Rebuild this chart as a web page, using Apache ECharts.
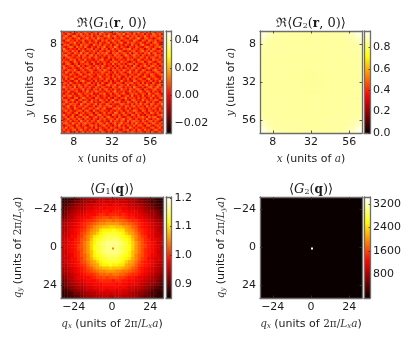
<!DOCTYPE html>
<html>
<head>
<meta charset="utf-8">
<style>html,body{margin:0;padding:0;background:#fff}#c{width:415px;height:346px;filter:blur(0.45px)}</style>
<script src="https://cdn.jsdelivr.net/npm/echarts@6/dist/echarts.min.js"></script>
</head>
<body>
<div id="c"></div>
<script>
const rTicks = [8, 32, 56];
const qTicks = [-24, 0, 24];
const cb1Ticks = [-0.02, 0, 0.02, 0.04];
const cb2Ticks = [0, 0.2, 0.4, 0.6, 0.8];
const cb3Ticks = [0.9, 1.0, 1.1, 1.2];
const cb4Ticks = [800, 1600, 2400, 3200];

// Re<G1(r,0)>, thousandths, coarse 48x48 estimate of the speckle
const g1r = [
[5,-2,8,3,-4,11,6,1,9,-3,4,12,2,7,-5,6,10,0,5,14,-1,7,3,-6,9,4,13,1,6,-3,8,11,2,-4,7,5,15,0,3,9,-2,6,12,4,-5,8,2,10],
[9,3,-5,12,6,1,-3,8,4,14,-1,5,9,-4,11,2,7,-6,13,3,8,-2,10,5,1,-4,6,11,3,16,-2,5,8,0,12,-3,6,4,10,-5,7,2,-1,13,6,3,11,-4],
[-3,7,13,1,-6,9,15,4,-2,6,10,0,7,3,12,-5,4,9,1,-3,11,6,16,0,7,12,-2,4,9,-5,6,13,-1,8,3,10,-6,7,1,14,4,-3,9,6,11,0,5,8],
[6,11,0,5,9,-4,3,7,13,-5,2,8,14,-1,6,10,-3,15,5,7,-4,2,9,4,-7,8,3,-2,12,7,1,-4,10,5,-2,6,17,3,-5,8,11,1,4,-6,2,9,13,-1],
[2,-6,8,14,3,7,-2,10,1,5,12,-4,3,9,-2,5,13,2,-6,10,4,12,-3,6,14,1,5,10,-5,3,9,7,2,-3,14,8,0,-5,11,6,-2,12,7,3,10,-3,5,7],
[12,4,1,-3,10,5,16,-1,6,-7,9,4,-2,11,6,1,8,-4,9,3,-1,7,13,-2,5,9,-3,7,15,1,-6,11,4,9,6,-1,4,12,2,-4,9,5,-7,8,14,4,0,-5],
[-1,9,6,11,-5,2,8,4,-3,13,3,7,10,0,-5,14,6,3,11,-5,8,5,1,10,-4,3,12,0,6,-2,10,4,-3,13,1,7,-5,9,15,3,0,-4,10,1,5,11,-2,8],
[7,2,-4,6,13,9,-6,12,5,8,-1,14,2,-6,8,3,-2,10,1,6,15,-3,4,8,2,16,6,-5,9,4,2,-7,8,3,-4,11,5,1,-3,7,13,6,2,-3,9,6,14,3],
[4,15,3,-2,7,0,5,-3,10,1,6,-5,9,5,12,-3,7,4,-7,13,2,9,-6,5,11,-1,7,3,-3,12,6,9,14,-2,5,8,-2,10,6,-6,4,9,-2,12,7,-5,1,10],
[-5,6,10,4,-1,12,3,8,-7,4,11,2,-2,7,1,10,5,-4,8,3,-3,6,11,-2,7,3,-6,13,8,0,-4,5,1,7,10,-5,3,7,13,2,8,-1,11,4,0,6,9,-2],
[10,1,-3,8,5,-6,11,6,2,15,-4,6,12,-4,4,6,-6,12,2,9,5,14,0,-5,9,5,12,-1,4,10,6,-3,11,-6,4,12,-1,5,-4,9,5,14,-5,7,10,-3,3,6],
[3,8,14,0,-4,9,2,-2,13,0,7,9,-6,8,14,0,9,-1,6,-4,10,1,7,4,-3,13,2,8,-5,3,15,7,-2,6,13,2,8,-6,10,3,-3,6,1,-2,12,5,8,-4],
[8,-5,5,11,7,3,-1,7,5,-4,10,1,4,11,-2,5,12,3,-5,7,0,-6,12,3,6,-2,9,5,11,-6,2,9,4,-1,8,5,-3,11,6,0,12,-4,7,9,3,-1,11,5],
[-2,6,1,-4,12,6,10,-5,9,3,-2,13,-3,5,2,-5,7,2,9,14,-3,6,4,-7,10,1,-4,7,2,6,-2,12,5,10,-5,1,14,4,-2,7,5,2,-6,13,6,9,0,7],
[11,3,9,6,-3,1,14,4,0,8,12,-1,7,-5,9,6,-4,10,-2,5,8,2,-4,9,5,12,6,-3,13,4,8,1,-6,3,9,-4,6,8,12,-5,3,11,8,1,-4,6,12,2],
[1,-4,7,12,4,-7,5,9,-6,5,2,6,10,2,-7,11,1,-5,4,-7,12,0,7,-2,14,0,3,9,-1,7,-5,6,11,7,-2,10,2,-1,5,9,-1,7,-2,5,10,-3,4,9],
[6,9,-2,3,8,11,-2,6,13,-3,7,-6,3,9,4,-1,10,6,1,12,5,-3,3,6,-3,8,-5,4,10,1,12,-3,4,-5,13,5,-7,8,3,14,5,-4,9,12,2,7,-5,5],
[-6,12,5,0,-3,7,4,-4,2,10,-2,4,12,5,-3,8,3,13,-4,8,-1,4,11,1,6,-4,10,-2,6,-6,3,8,0,10,6,-2,9,4,-6,1,7,12,3,-4,8,0,10,3],
[8,2,-5,10,6,2,13,1,-7,4,9,-3,2,11,7,2,-5,4,9,0,14,6,2,-7,9,5,1,7,-3,13,5,-1,9,2,-4,12,1,-3,11,6,-3,2,-6,7,14,5,-2,6],
[3,-1,14,4,-6,9,-2,8,11,-1,3,8,-5,1,12,-2,6,-1,3,11,5,-2,8,3,-3,11,-6,4,11,2,-4,7,14,-3,5,7,-5,9,4,-1,10,6,1,-3,5,11,6,-4],
[10,6,1,-3,12,5,3,-5,6,13,-5,2,6,13,3,5,-3,9,1,7,-3,12,4,-5,6,2,9,-2,5,8,6,-6,3,8,1,-2,13,5,-5,8,4,-1,12,7,-2,3,9,13],
[-4,7,9,5,2,-3,10,6,0,-4,7,11,-2,4,10,-3,2,5,14,-2,4,3,9,1,10,-4,5,12,0,-5,9,3,11,-2,6,10,3,-6,7,13,2,-6,5,9,4,-5,1,7],
[5,-2,11,-6,8,14,0,-3,9,5,1,-6,4,9,-3,7,6,-2,6,9,-4,11,7,-3,3,13,-2,6,-6,8,1,12,-5,4,9,-4,6,11,1,-4,8,15,-3,2,10,6,-1,11],
[12,3,-3,6,1,-5,7,12,-2,8,14,3,-1,2,7,-4,11,0,4,-3,6,10,-2,8,-5,6,1,-3,14,4,-2,6,2,-5,13,7,-1,3,8,5,-2,4,9,-5,7,0,13,2],
[2,9,6,-1,13,4,-4,5,2,-7,6,-2,9,13,-5,6,1,8,-5,12,2,-6,5,11,0,-3,9,7,3,-7,10,5,8,11,-1,2,9,-5,12,-3,7,1,-6,11,3,-3,6,8],
[-3,5,0,10,-7,6,9,1,11,3,-4,10,5,-3,8,3,-6,13,6,1,-4,7,14,2,6,12,-4,2,9,5,-1,14,-4,3,6,-6,5,10,1,6,14,-2,8,4,-4,9,12,-5],
[7,13,4,2,8,-3,15,-5,6,9,-1,5,1,11,0,-2,10,4,-3,9,5,-1,3,-6,10,4,-1,11,6,-4,8,1,7,-3,15,4,1,-2,7,-4,3,9,11,-1,6,14,1,5],
[1,-5,9,-2,6,11,3,7,-3,4,12,-6,8,4,-6,9,5,-2,11,-7,8,13,-2,5,-3,8,2,-5,13,3,6,-5,10,5,-2,8,12,3,-6,9,5,-3,2,7,12,-2,4,8],
[9,4,-1,12,3,-2,5,10,0,-6,7,2,14,-2,7,3,13,6,1,4,-2,6,9,0,7,15,-3,5,1,9,-3,4,12,0,7,-4,6,14,2,-1,11,6,-5,9,1,5,-6,10],
[4,-6,7,5,-4,10,-6,2,13,6,-3,9,3,6,12,-5,2,-4,8,5,14,-5,3,11,-4,6,10,-2,7,12,2,-6,5,9,3,10,-3,4,9,5,-6,13,4,-2,8,11,3,-3],
[-1,11,3,8,14,1,7,-2,4,9,1,-5,11,-3,5,8,-1,10,-6,2,9,3,-4,7,4,-1,5,13,-5,0,6,11,-2,14,-4,2,7,-5,12,-2,4,8,1,14,-3,6,9,2],
[13,0,-4,6,2,-5,9,12,-4,3,14,7,-1,8,1,-6,11,6,3,-3,7,-2,12,1,-6,9,3,-4,8,5,14,-1,7,3,6,-5,11,1,6,8,-4,2,10,-4,5,-1,7,12],
[5,8,10,-3,6,13,4,-7,6,10,-2,4,6,-5,10,4,7,-3,13,6,0,10,-5,6,14,2,-3,7,1,-6,9,4,-5,8,11,1,5,-3,14,3,7,-1,6,3,12,7,-4,1],
[-5,2,12,4,-1,7,-3,9,1,-4,8,12,0,3,13,-2,5,1,-4,9,5,-6,4,8,-2,11,6,10,-4,4,-1,13,6,-2,4,10,-6,8,2,-5,11,5,-3,9,0,-5,10,6],
[6,9,-4,1,11,5,8,3,-5,15,3,-6,9,7,-3,6,12,-5,8,2,-2,13,7,-3,5,1,-5,3,12,8,2,5,-3,10,-5,7,3,13,-1,9,4,-6,12,6,-2,8,3,14],
[2,-3,6,14,-5,2,10,-2,7,5,-1,10,5,-4,2,9,-6,4,11,-1,7,3,9,12,0,-4,8,-1,6,-5,11,7,1,6,12,-3,9,1,5,-4,13,2,6,-3,11,4,-2,5],
[11,5,0,8,4,-6,13,6,0,-3,12,2,-2,11,6,0,8,13,-2,6,15,-4,1,-5,7,12,4,14,-2,3,9,-4,10,-6,2,5,-2,11,7,3,-1,8,0,10,5,-6,13,1],
[-2,7,13,-3,9,3,-1,5,11,8,-6,7,13,1,-5,14,3,-3,5,9,1,6,-6,8,3,-3,6,2,9,-6,4,12,-1,5,14,8,0,-5,12,6,-3,10,5,-4,8,2,6,9],
[4,-5,2,10,6,-4,7,14,-4,3,9,-2,5,9,4,-7,10,6,-7,3,12,-3,10,5,-1,14,9,-5,5,13,-3,6,9,2,-4,10,4,6,-3,9,2,-5,14,7,1,11,-3,4],
[8,12,-1,5,-3,11,2,-5,6,13,1,4,-5,7,12,2,-2,9,13,-1,7,4,2,-6,11,6,1,8,-2,7,10,1,-6,12,7,-2,13,-4,3,-5,8,6,-1,3,-5,6,9,12],
[0,6,9,-6,7,13,-2,9,3,-2,10,6,14,-3,1,6,12,0,4,10,-5,8,14,3,-2,5,-6,11,3,-4,2,8,6,-3,5,1,9,7,12,5,-3,11,4,9,12,-2,1,7],
[6,-3,4,12,1,5,8,-1,12,5,-7,9,2,6,-5,10,3,-6,8,2,11,-2,5,9,7,-3,12,1,7,14,-1,5,11,3,-5,9,-3,2,8,0,14,1,-5,6,2,13,5,-4],
[13,3,7,-2,10,-5,4,6,-3,14,4,-1,11,-4,8,5,-2,14,5,-4,6,1,-5,12,0,8,4,-2,9,5,-6,13,0,7,10,4,6,-6,11,4,-2,7,10,-2,8,3,-5,9],
[-1,8,11,4,-4,14,6,1,10,0,7,13,3,9,1,-3,7,2,11,6,-3,13,4,-4,6,11,-3,6,13,1,8,3,-4,9,-2,14,1,5,-2,10,6,-4,3,13,5,-1,10,2],
[5,-6,1,9,6,2,-5,12,4,-5,8,2,-6,6,13,4,9,-5,1,8,12,-1,7,2,-6,9,2,15,-4,6,-3,10,5,1,12,-4,8,11,3,-7,9,12,1,-5,6,11,3,7],
[9,3,13,-3,7,11,-2,5,9,3,-2,11,5,-1,7,-4,12,3,7,-3,5,9,-2,11,6,3,-5,7,4,11,2,-5,14,6,-3,7,2,-2,9,5,1,-3,8,10,-3,4,13,-1],
[2,10,-2,6,1,8,14,-4,7,13,1,6,-4,10,2,6,0,-6,13,5,-5,3,10,5,-3,12,8,1,-5,9,6,12,-2,3,9,-5,13,6,-1,12,4,7,-4,2,14,7,0,6],
[7,0,5,11,-3,4,6,9,-1,4,10,-3,8,3,12,-2,8,5,2,11,6,-4,7,0,13,4,-1,9,6,2,-3,7,4,10,5,1,6,9,3,-2,8,5,11,6,-2,4,9,3]
];

// Re<G2(r,0)>, thousandths: nearly flat with paler corners
const g2r = [
[925,890,872,866,864,864,863,863,863,863,864,864,866,872,890,925],
[890,872,866,864,863,863,862,862,862,862,863,863,864,866,872,890],
[872,866,864,863,862,862,862,861,861,862,862,862,863,864,866,872],
[866,864,863,862,862,861,861,861,861,861,861,862,862,863,864,866],
[864,863,862,862,861,861,861,860,860,861,861,861,862,862,863,864],
[864,863,862,861,861,860,860,860,860,860,860,861,861,862,863,864],
[863,862,862,861,861,860,860,859,859,860,860,861,861,862,862,863],
[863,862,861,861,860,860,859,859,859,859,860,860,861,861,862,863],
[863,862,861,861,860,860,859,859,859,859,860,860,861,861,862,863],
[863,862,862,861,861,860,860,859,859,860,860,861,861,862,862,863],
[864,863,862,861,861,860,860,860,860,860,860,861,861,862,863,864],
[864,863,862,862,861,861,861,860,860,861,861,861,862,862,863,864],
[866,864,863,862,862,861,861,861,861,861,861,862,862,863,864,866],
[872,866,864,863,862,862,862,861,861,862,862,862,863,864,866,872],
[890,872,866,864,863,863,862,862,862,862,863,863,864,866,872,890],
[925,890,872,866,864,864,863,863,863,863,864,864,866,872,890,925]
];

// <G1(q)>, hundredths, 32x32 estimate
const g1q = [
[87,87,88,88,89,90,91,92,93,93,94,94,95,95,94,95,95,94,95,95,94,94,93,93,92,91,90,90,89,88,87,87],
[87,88,88,89,91,91,92,93,93,94,93,95,95,96,95,96,95,96,95,95,95,94,94,93,92,92,91,90,88,89,87,87],
[88,88,90,91,92,93,93,94,95,95,96,96,96,97,97,96,97,97,96,97,96,95,95,94,94,93,92,91,90,89,88,88],
[88,90,91,92,93,94,94,95,96,96,97,97,98,97,98,98,98,98,98,97,97,96,96,95,95,94,93,92,91,90,89,88],
[89,91,92,93,94,95,95,96,97,97,98,98,98,99,99,98,99,99,99,98,98,97,97,97,96,95,94,93,93,92,91,89],
[90,91,93,94,95,96,96,97,98,98,98,99,100,100,99,100,100,100,99,100,99,98,98,97,97,96,95,94,93,93,91,90],
[91,92,94,94,96,97,97,98,98,99,100,101,101,102,102,101,102,102,101,101,100,99,99,98,97,97,96,95,94,93,92,91],
[92,93,94,95,96,97,98,99,100,100,101,102,103,103,104,104,103,104,103,103,102,101,100,100,99,98,97,96,95,94,93,92],
[93,94,95,96,97,98,99,100,101,102,103,104,105,105,106,106,106,106,105,104,104,103,102,101,100,99,98,97,96,95,94,93],
[93,94,95,96,97,98,99,100,102,103,105,106,107,108,108,109,109,108,108,107,106,105,103,102,100,99,98,97,96,95,94,93],
[94,94,96,97,98,99,100,101,103,105,106,107,110,111,111,111,112,111,110,110,107,106,105,103,101,100,99,98,97,96,94,94],
[94,95,96,97,98,99,101,102,104,106,107,109,111,112,113,113,113,113,112,111,109,107,106,104,102,100,99,98,97,96,95,94],
[95,95,96,98,98,100,101,103,105,107,110,111,112,113,114,114,114,114,113,112,111,110,107,105,103,101,100,98,97,96,95,95],
[95,96,97,97,99,100,102,103,105,108,111,112,113,114,115,115,115,115,114,113,112,111,108,105,103,102,100,99,97,97,96,95],
[95,95,97,98,99,100,102,104,106,109,111,113,114,115,116,116,116,116,115,114,113,111,109,106,104,102,100,99,98,97,95,95],
[95,96,97,98,99,101,102,104,106,109,112,113,114,115,116,116,116,116,115,114,113,112,109,106,104,102,101,99,98,97,96,95],
[95,96,97,98,99,101,102,104,106,109,112,113,114,115,116,116,116,116,115,114,113,112,109,106,104,102,100,99,98,97,96,95],
[95,95,97,98,99,100,102,104,106,108,111,113,114,115,116,116,116,116,115,114,113,111,108,106,104,102,100,99,98,97,95,95],
[95,96,96,97,99,100,102,103,105,108,111,112,113,114,115,115,115,115,114,113,112,111,108,105,103,102,100,99,97,97,96,95],
[95,95,96,98,98,100,101,103,105,107,110,111,112,113,114,114,114,114,113,112,111,110,107,105,103,101,100,98,97,96,96,95],
[94,95,96,97,98,99,101,102,104,106,107,109,111,112,113,113,113,113,112,111,109,107,106,104,102,100,99,98,97,96,95,94],
[94,94,96,97,98,99,100,101,103,105,106,107,110,111,111,112,111,111,110,110,107,106,105,103,101,100,99,98,97,96,94,94],
[93,94,95,96,97,98,99,100,102,103,105,106,107,108,108,109,108,108,108,107,106,105,103,102,100,99,98,97,96,95,94,93],
[93,94,95,96,97,98,99,100,101,102,103,104,105,105,106,106,106,105,105,104,104,103,102,101,100,99,98,97,96,95,94,93],
[92,93,94,95,96,97,98,99,100,100,101,102,103,103,104,103,104,104,103,103,102,101,100,100,99,98,97,96,95,94,93,92],
[91,92,94,94,96,97,97,98,98,99,100,101,101,102,101,102,102,102,101,101,100,99,99,98,97,97,96,95,94,93,92,91],
[90,91,93,94,95,96,96,97,98,98,98,99,100,100,100,100,99,100,100,99,99,98,98,97,97,96,95,94,93,93,91,90],
[89,91,92,93,94,95,95,96,97,97,98,98,98,99,99,99,99,98,99,98,98,97,97,97,96,95,94,93,93,92,91,89],
[88,90,91,92,93,94,94,95,96,96,97,97,97,98,98,98,98,98,97,98,97,96,96,95,95,94,93,92,91,90,89,88],
[88,88,90,91,92,93,93,94,95,95,96,96,97,97,96,97,97,96,97,96,96,95,95,94,94,93,92,91,90,89,88,88],
[87,88,88,89,91,91,92,93,93,94,94,95,95,95,96,95,96,95,96,95,95,94,93,93,92,92,91,90,88,89,87,87],
[87,87,88,88,89,90,91,92,93,93,94,94,94,95,95,94,95,95,95,94,94,94,93,93,92,91,90,90,89,88,87,87]
];
const g1qPeak = 1.05;

// <G2(q)>: flat background and a single bright q = 0 cell
const g2q = [[1, 1], [1, 1]];
const g2qPeak = 3440;

const hot = ['#0b0000','#5f0000','#b40000','#ff0700','#ff5a00','#ffae00','#ffff04','#ffff82','#ffffff'];
const frame = '#6e6e6e', ink = '#1a1a1a';
const font = 'DejaVu Sans', serif = 'DejaVu Serif';
const richBase = {
  n: {fontFamily: font, fontSize: 11, fontWeight: 'normal', color: ink},
  i: {fontFamily: serif, fontStyle: 'italic', fontWeight: 'normal', fontSize: 10.5, color: '#333'},
  s: {fontFamily: serif, fontStyle: 'italic', fontWeight: 'normal', fontSize: 7, color: '#333', verticalAlign: 'bottom', lineHeight: 9},
  m: {fontFamily: serif, fontWeight: 'normal', fontSize: 10.5, color: '#333'}
};
const richTitle = {
  t: {fontFamily: serif, fontWeight: 'normal', fontSize: 13, color: ink},
  g: {fontFamily: serif, fontWeight: 'normal', fontStyle: 'italic', fontSize: 13, color: ink},
  s: {fontFamily: serif, fontWeight: 'normal', fontSize: 8, color: ink, verticalAlign: 'bottom', lineHeight: 10},
  b: {fontFamily: serif, fontWeight: 'bold', fontSize: 12, color: ink}
};
const rX = '{i|x} {n|(units of }{i|a}{n|)}', rY = '{i|y} {n|(units of }{i|a}{n|)}';
const qX = '{i|q}{s|x} {n|(units of }{m|2π/}{i|L}{s|x}{i|a}{n|)}';
const qY = '{i|q}{s|y} {n|(units of }{m|2π/}{i|L}{s|y}{i|a}{n|)}';

function cells(grid, lo, hi, scale) {
  const out = [], n = grid.length, w = (hi - lo) / grid[0].length, h = (hi - lo) / n;
  grid.forEach((row, j) => row.forEach((v, i) => {
    out.push([lo + i * w, lo + j * h, lo + (i + 1) * w, lo + (j + 1) * h, v * scale]);
  }));
  return out;
}
const W = 102;
const panels = [
  {l: 61, t: 31, h: 102, lo: 0, hi: 64, ticks: rTicks, title: '{t|ℜ⟨}{g|G}{s|1}{t|(}{b|r}{t|, 0)⟩}', xn: rX, yn: rY,
   nameGapY: 25, data: cells(g1r, 0, 64, 0.001), vmin: -0.0275, vmax: 0.047, cbL: 166, cbW: 5.5, cb: cb1Ticks, dec: 2, titleY: 21},
  {l: 260, t: 31, h: 102, lo: 0, hi: 64, ticks: rTicks, title: '{t|ℜ⟨}{g|G}{s|2}{t|(}{b|r}{t|, 0)⟩}', xn: rX, yn: rY,
   nameGapY: 23, data: cells(g2r, 0, 64, 0.001), vmin: 0, vmax: 0.955, cbL: 364, cbW: 6, cb: cb2Ticks, dec: 1, titleY: 21},
  {l: 61, t: 197, h: 101, lo: -32, hi: 32, ticks: qTicks, title: '{t|⟨}{g|G}{s|1}{t|(}{b|q}{t|)⟩}', xn: qX, yn: qY,
   nameGapY: 37, data: cells(g1q, -32, 32, 0.01).concat([[0, 0, 1, 1, g1qPeak]]), vmin: 0.851, vmax: 1.203, cbL: 166, cbW: 5.5, cb: cb3Ticks, dec: 1, titleY: 187},
  {l: 260, t: 197, h: 101, lo: -32, hi: 32, ticks: qTicks, title: '{t|⟨}{g|G}{s|2}{t|(}{b|q}{t|)⟩}', xn: qX, yn: qY,
   nameGapY: 33, data: cells(g2q, -32, 32, 1).concat([[0, 0, 1, 1, g2qPeak]]), vmin: 0, vmax: 3440, cbL: 364, cbW: 6, cb: cb4Ticks, dec: 0, titleY: 187}
];

const option = {animation: false, backgroundColor: '#fff', grid: [], xAxis: [], yAxis: [], series: [], visualMap: [], title: []};
const line = {show: true, onZero: false, lineStyle: {color: frame, width: 1.3}};
const tick = (vals, len) => ({show: true, inside: true, length: len, customValues: vals, lineStyle: {color: '#333', width: 0.8}});

function addAxes(gi, xCfg, yCfg) {
  const xi = option.xAxis.length, yi = option.yAxis.length;
  option.xAxis.push(Object.assign({type: 'value', gridIndex: gi, position: 'bottom', z: 5, axisLine: line, splitLine: {show: false}}, xCfg));
  option.xAxis.push({type: 'value', gridIndex: gi, position: 'top', z: 5, min: xCfg.min, max: xCfg.max, axisLine: line, splitLine: {show: false},
    axisLabel: {show: false}, axisTick: xCfg.axisTick});
  option.yAxis.push(Object.assign({type: 'value', gridIndex: gi, z: 5, axisLine: line, splitLine: {show: false}}, yCfg));
  option.yAxis.push({type: 'value', gridIndex: gi, position: yCfg.position === 'right' ? 'left' : 'right', z: 5, min: yCfg.min, max: yCfg.max, inverse: yCfg.inverse,
    axisLine: line, splitLine: {show: false}, axisLabel: {show: false}, axisTick: yCfg.position === 'right' ? {show: false} : yCfg.axisTick});
  return {xi, yi};
}

panels.forEach((p) => {
  const gi = option.grid.length;
  option.grid.push({left: p.l, top: p.t, width: W, height: p.h});
  const label = vals => ({show: true, customValues: vals, margin: 4, fontFamily: font, fontSize: 11, color: ink,
    formatter: v => String(v).replace('-', '−')});
  const a = addAxes(gi,
    {min: p.lo, max: p.hi, axisLabel: label(p.ticks), axisTick: tick(p.ticks, 2.5),
     name: p.xn, nameLocation: 'middle', nameGap: 20, nameTextStyle: {fontWeight: 'normal', rich: richBase}},
    {min: p.lo, max: p.hi, inverse: true, position: 'left', axisLabel: label(p.ticks), axisTick: tick(p.ticks, 2.5),
     name: p.yn, nameLocation: 'middle', nameGap: p.nameGapY, nameTextStyle: {fontWeight: 'normal', rich: richBase}});
  const si = option.series.length;
  option.series.push({
    type: 'custom', coordinateSystem: 'cartesian2d', xAxisIndex: a.xi, yAxisIndex: a.yi, clip: true, silent: true, z: 2,
    encode: {x: [0, 2], y: [1, 3]}, data: p.data,
    renderItem: (params, api) => {
      const p0 = api.coord([api.value(0), api.value(1)]), p1 = api.coord([api.value(2), api.value(3)]);
      return {type: 'rect', shape: {x: Math.min(p0[0], p1[0]), y: Math.min(p0[1], p1[1]),
        width: Math.abs(p1[0] - p0[0]) + 0.4, height: Math.abs(p1[1] - p0[1]) + 0.4},
        style: {fill: api.visual('color')}};
    }
  });
  option.visualMap.push({show: false, type: 'continuous', seriesIndex: si, dimension: 4, min: p.vmin, max: p.vmax, inRange: {color: hot}});
  option.title.push({text: p.title, left: p.l + W / 2 - 5, top: p.titleY - 9, textAlign: 'center', textStyle: {fontWeight: 'normal', rich: richTitle}});

  // colour bar with its own value axis
  const gb = option.grid.length;
  option.grid.push({left: p.cbL, top: p.t, width: p.cbW, height: p.h});
  const b = addAxes(gb,
    {min: 0, max: 1, axisLabel: {show: false}, axisTick: {show: false}},
    {min: p.vmin, max: p.vmax, position: 'right',
     axisLabel: {show: true, customValues: p.cb, margin: 3, fontFamily: font, fontSize: 11, color: ink,
       formatter: v => v.toFixed(p.dec).replace('-', '−')},
     axisTick: tick(p.cb, 1.5)});
  option.series.push({
    type: 'custom', coordinateSystem: 'cartesian2d', xAxisIndex: b.xi, yAxisIndex: b.yi, silent: true, z: 2,
    encode: {x: [0, 2], y: [1, 3]}, data: [[0, p.vmin, 1, p.vmax]],
    renderItem: (params, api) => {
      const p0 = api.coord([api.value(0), api.value(3)]), p1 = api.coord([api.value(2), api.value(1)]);
      return {type: 'rect', shape: {x: p0[0], y: p0[1], width: p1[0] - p0[0], height: p1[1] - p0[1]},
        style: {fill: new echarts.graphic.LinearGradient(0, 1, 0, 0, hot.map((c, i) => ({offset: i / (hot.length - 1), color: c})))}};
    }
  });
});

const chart = echarts.init(document.getElementById('c'), null, {renderer: 'canvas', width: 415, height: 346});
chart.setOption(option);
</script>
</body>
</html>
